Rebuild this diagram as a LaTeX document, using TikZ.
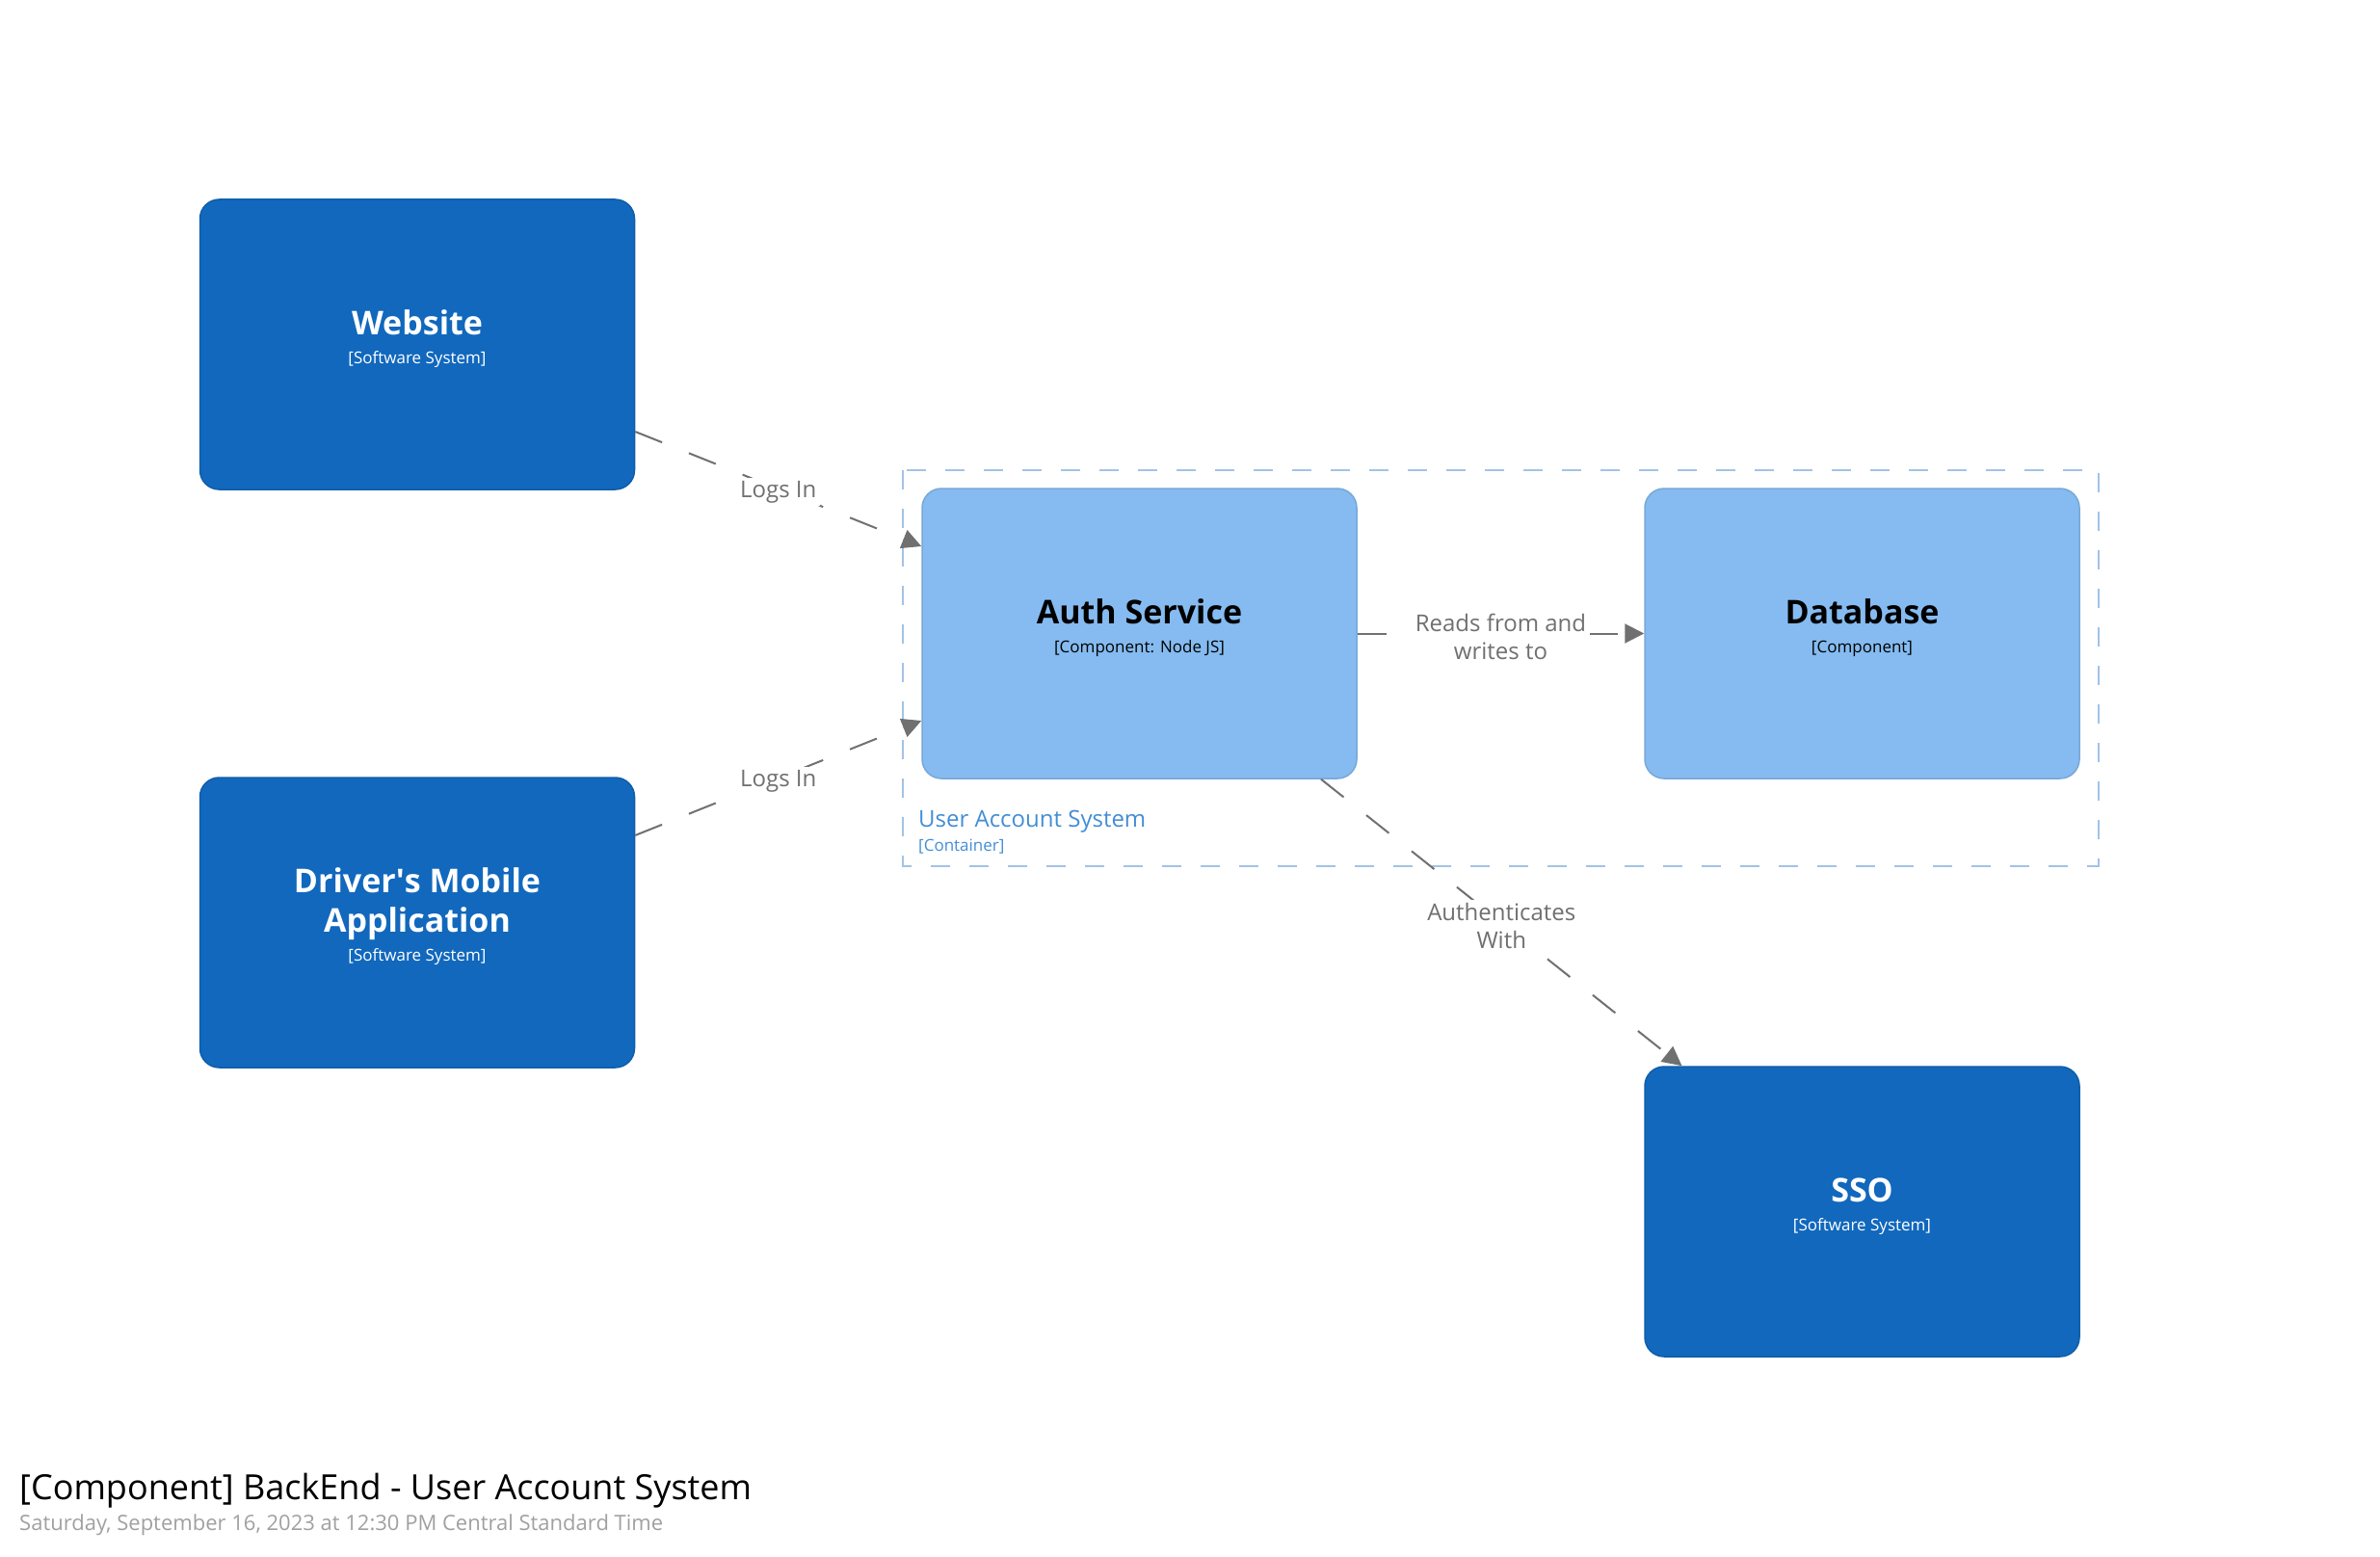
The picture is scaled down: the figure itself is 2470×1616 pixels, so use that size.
\documentclass[tikz,border=0pt]{standalone}
\usepackage{fontspec}
\setmainfont{Open Sans}
\usetikzlibrary{arrows.meta,calc}
\definecolor{sysblue}{HTML}{1168BD}
\definecolor{sysborder}{HTML}{0F5EAA}
\definecolor{compblue}{HTML}{85BBF0}
\definecolor{compborder}{HTML}{78A8D8}
\definecolor{linkgray}{HTML}{707070}
\definecolor{contdash}{HTML}{A2C3E6}
\definecolor{conttext}{HTML}{438DD5}
\definecolor{dategray}{HTML}{A0A0A0}
\tikzset{
  sysbox/.style={draw=sysborder, line width=1.5pt, fill=sysblue, rounded corners=20pt, minimum width=451pt, minimum height=301pt, inner sep=0pt},
  compbox/.style={draw=compborder, line width=1.5pt, fill=compblue, rounded corners=20pt, minimum width=451pt, minimum height=301pt, inner sep=0pt},
  boxtitle/.style={anchor=base, font=\fontsize{34}{40}\selectfont\bfseries, inner sep=0pt},
  boxsub/.style={anchor=base, font=\fontsize{17}{20}\selectfont, inner sep=0pt},
  link/.style={draw=linkgray, line width=2pt, dash pattern=on 30pt off 30pt, -{Triangle[length=20pt,width=20pt]}},
  linklabel/.style={fill=white, text=linkgray, font=\fontsize{24}{29}\selectfont, align=center, inner xsep=4pt, inner ysep=3pt, yshift=-3pt},
  container/.style={draw=contdash, line width=2pt, dash pattern=on 20pt off 20pt},
}
\begin{document}
\begin{tikzpicture}[x=1pt, y=-1pt]
\useasboundingbox (0,0) rectangle (2470,1616);

% container boundary
\draw[container] (937,488) rectangle (2178,899);
\node[anchor=base west, inner sep=0pt, text=conttext, font=\fontsize{24}{28}\selectfont] (contlbl) at (953,858) {User Account System};
\node[anchor=base west, inner sep=0pt, text=conttext, font=\fontsize{17}{20}\selectfont] (contsub) at (953,883) {[Container]};

% boxes
\node[sysbox] (web) at (433,357.5) {};
\node[boxtitle, text=white] (webt) at (433,347.5) {Website};
\node[boxsub, text=white] (webs) at (433,377.5) {[Software System]};

\node[sysbox] (drv) at (433,957.5) {};
\node[boxtitle, text=white] (drvt1) at (433,926.5) {Driver\textquotesingle s Mobile};
\node[boxtitle, text=white] (drvt2) at (433,967.5) {Application};
\node[boxsub, text=white] (drvs) at (433,997.5) {[Software System]};

\node[compbox] (auth) at (1182.5,657.5) {};
\node[boxtitle, text=black] (autht) at (1182.5,647.5) {Auth Service};
\node[boxsub, text=black] (auths) at (1182.5,677.5) {[Component: Node JS]};

\node[compbox] (db) at (1932.5,657.5) {};
\node[boxtitle, text=black] (dbt) at (1932.5,647.5) {Database};
\node[boxsub, text=black] (dbs) at (1932.5,677.5) {[Component]};

\node[sysbox] (sso) at (1932.5,1257.5) {};
\node[boxtitle, text=white] (ssot) at (1932.5,1247.5) {SSO};
\node[boxsub, text=white] (ssos) at (1932.5,1277.5) {[Software System]};

% connectors
\draw[link] ([yshift=-90.5pt]web.east) -- ([yshift=90.5pt]auth.west)
  node[midway, linklabel] (l1) {Logs In};
\draw[link] ([yshift=90.5pt]drv.east) -- ([yshift=-90.5pt]auth.west)
  node[midway, linklabel] (l2) {Logs In};
\draw[link] (auth.east) -- (db.west)
  node[midway, linklabel] (l3) {Reads from and\\writes to};
\draw[link] ([xshift=188.5pt]auth.south) -- ([xshift=-187pt]sso.north)
  node[midway, linklabel] (l4) {Authenticates\\With};

% title
\node[anchor=base west, inner sep=0pt, font=\fontsize{36}{40}\selectfont] (title) at (20,1556) {[Component] BackEnd - User Account System};
\node[anchor=base west, inner sep=0pt, text=dategray, font=\fontsize{22}{26}\selectfont] (date) at (20,1588) {Saturday, September 16, 2023 at 12:30 PM Central Standard Time};
\end{tikzpicture}
\end{document}
